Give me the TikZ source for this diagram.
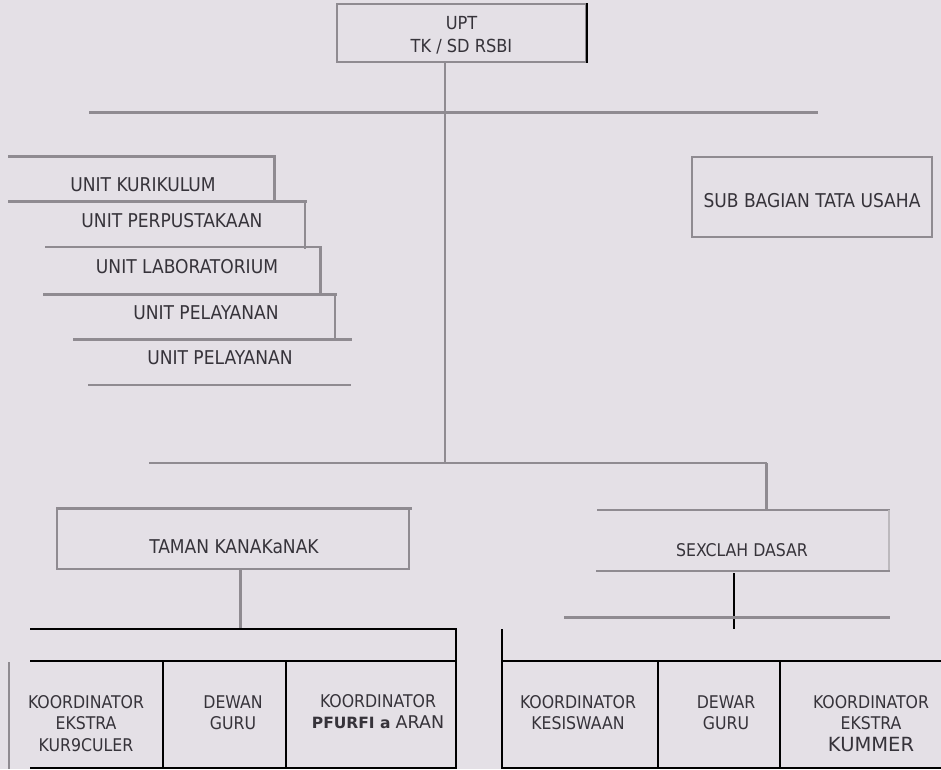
\documentclass[tikz,border=0pt]{standalone}
\usepackage{fontspec}
\setmainfont{DejaVu Sans Condensed}
\newfontfamily\widefont{DejaVu Sans}
\definecolor{bg}{HTML}{E4E0E6}
\definecolor{lg}{HTML}{8F8B91}
\definecolor{txt}{HTML}{36333A}
\begin{document}
\begin{tikzpicture}[x=1pt,y=-1pt,
  gl/.style={draw=lg, line width=2pt},
  glt/.style={draw=lg, line width=3pt},
  bl/.style={draw=black, line width=2.4pt},
  lbl/.style={text=txt, font=\fontsize{19}{21.5}\selectfont, align=center, inner sep=0pt},
  tbl/.style={text=txt, font=\fontsize{17.5}{21.5}\selectfont, align=center, inner sep=0pt},
  boxs/.style={draw=lg, line width=2pt, inner sep=0pt}]
\fill[bg] (0,0) rectangle (941,769);
\useasboundingbox (0,0) rectangle (941,769);

% top box
\node[boxs, minimum width=249, minimum height=58] (upt) at (461.5,33) {};
\node[lbl, font=\fontsize{18}{23}\selectfont] (upttxt) at (461.5,35) {UPT\\TK / SD RSBI};
\draw[bl, line width=2.8pt] (upt.north east) -- (upt.south east);
\coordinate (trunktop) at (445,62);
\coordinate (trunkbot) at (445,463);
\draw[gl] (trunktop) -- (trunkbot);
\coordinate (h1l) at (89,112);
\coordinate (h1r) at (818,112);
\draw[glt] (h1l) -- (h1r);

% units
\draw[glt] (8,156) -- (276,156);
\draw[glt] (274,156) -- (274,202);
\node[lbl] (u1) at (143,185) {UNIT KURIKULUM};
\draw[glt] (8,201) -- (307,201);
\draw[gl] (305,201) -- (305,249);
\node[lbl] (u2) at (172,221) {UNIT PERPUSTAKAAN};
\draw[gl] (45,247) -- (322,247);
\draw[glt] (320,247) -- (320,295);
\node[lbl] (u3) at (187,267) {UNIT LABORATORIUM};
\draw[glt] (43,294) -- (337,294);
\draw[gl] (335,294) -- (335,341);
\node[lbl] (u4) at (206,313) {UNIT PELAYANAN};
\draw[glt] (73,339) -- (352,339);
\node[lbl] (u5) at (220,358) {UNIT PELAYANAN};
\draw[gl] (88,385) -- (351,385);

% sub bagian
\node[boxs, minimum width=240, minimum height=80] (sub) at (812,197) {};
\node[lbl] (subtxt) at (812,201) {SUB BAGIAN TATA USAHA};

% second level
\coordinate (h2l) at (149,463);
\coordinate (h2r) at (767,463);
\draw[gl] (h2l) -- (h2r);
\draw[glt] (766,463) -- (766,510);

% SD box
\draw[gl] (597,510) -- (890,510);
\draw[gl, draw=lg!60] (889,510) -- (889,571);
\draw[gl] (596,571) -- (890,571);
\node[lbl, font=\fontsize{17.5}{21.5}\selectfont] (sd) at (742,550) {SEXCLAH DASAR};
\draw[draw=black, line width=1.6pt] (734,573) -- (734,629);
\draw[glt] (564,617) -- (890,617);

% TK box
\node[boxs, minimum width=352, minimum height=61] (tk) at (233,538.5) {};
\draw[glt] (57,508) -- (412,508);
\node[lbl] (tktxt) at (234,547) {TAMAN KANAKaNAK};
\draw[glt] (240,569) -- (240,628);

% left table
\draw[bl] (30,629) -- (457,629);
\draw[bl] (30,661) -- (457,661);
\draw[bl] (456,628) -- (456,769);
\draw[bl] (163,661) -- (163,769);
\draw[bl] (286,661) -- (286,769);
\draw[bl] (30,768) -- (457,768);
\draw[gl] (9,662) -- (9,769);
\node[tbl] (k1) at (86,723.5) {KOORDINATOR\\EKSTRA\\KUR9CULER};
\node[tbl] (k2) at (233,712.5) {DEWAN\\GURU};
\node[tbl] (k3) at (378,711.5) {KOORDINATOR\\{\widefont\bfseries\fontsize{15.5}{21.5}\selectfont PFURFI a} {\widefont ARAN}};

% right table
\draw[bl] (502,629) -- (502,769);
\draw[bl] (501,661) -- (941,661);
\draw[bl] (658,661) -- (658,769);
\draw[bl] (780,661) -- (780,769);
\draw[bl] (501,768) -- (941,768);
\node[tbl] (k4) at (578,712.5) {KOORDINATOR\\KESISWAAN};
\node[tbl] (k5) at (726,712.5) {DEWAR\\GURU};
\node[tbl] (k6) at (871,723.5) {KOORDINATOR\\EKSTRA\\{\widefont\fontsize{19.5}{21.5}\selectfont KUMMER}};
\end{tikzpicture}
\end{document}
